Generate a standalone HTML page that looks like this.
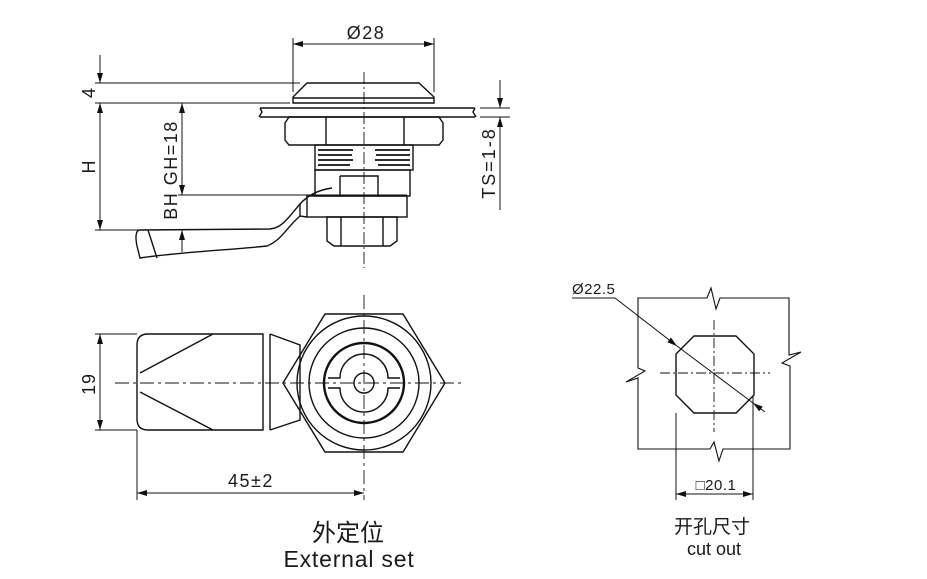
<!DOCTYPE html>
<html><head><meta charset="utf-8"><style>
html,body{margin:0;padding:0;background:#fff;}
svg{display:block;}
text{font-family:"Liberation Sans","Noto Sans CJK SC",sans-serif;fill:#1a1a1a;}
</style></head><body>
<svg width="927" height="579" viewBox="0 0 927 579" xmlns="http://www.w3.org/2000/svg">
<defs>
<marker id="a" viewBox="0 0 10 10" refX="10" refY="5" markerWidth="10" markerHeight="10" markerUnits="userSpaceOnUse" orient="auto-start-reverse"><path d="M0,2 L10,5 L0,8 z" fill="#111"/></marker>
</defs>
<g stroke="#111" stroke-width="1.4" fill="none">
<!-- TOP VIEW -->
<line x1="364" y1="72" x2="364" y2="268" stroke-dasharray="12,3,2,3" stroke-width="0.9"/>
<line x1="293" y1="38" x2="293" y2="92" stroke-width="1"/>
<line x1="434" y1="38" x2="434" y2="92" stroke-width="1"/>
<line x1="293" y1="44" x2="434" y2="44" marker-start="url(#a)" marker-end="url(#a)" stroke-width="1"/>
<path d="M307,83 L419,83 L434,97 L434,103 L293,103 L293,97 Z"/>
<line x1="293" y1="98" x2="434" y2="98"/>
<line x1="95" y1="83" x2="300" y2="83" stroke-width="1"/>
<line x1="95" y1="103" x2="290" y2="103" stroke-width="1"/>
<path d="M260,108 L475,108 M260,117 L475,117 M260,108 L262,112 L259,117 M475,108 L473,112 L476,117"/>
<path d="M480,108 L510,108 M480,117 L510,117" stroke-width="1"/>
<path d="M289,117 L439,117 L443,123 L443,140 L439,145 L289,145 L285,140 L285,123 Z"/>
<line x1="326" y1="117" x2="326" y2="145"/><line x1="404" y1="117" x2="404" y2="145"/>
<rect x="315" y="145" width="98" height="25"/>
<g stroke-width="1.8"><path d="M318,150 H353 M318,155 H352 M318,160 H353 M318,165 H350 M375,150 H410 M376,155 H410 M375,160 H410 M378,165 H410"/></g>
<rect x="315" y="170" width="95" height="26"/>
<path d="M340,176 H378 V196 M340,176 V196"/>
<line x1="178" y1="195" x2="407" y2="195" stroke-width="1"/>
<rect x="307" y="196" width="100" height="21"/>
<path d="M327,217 H397 V241 L390,246 H334 L327,241 Z"/>
<line x1="341" y1="217" x2="341" y2="246"/><line x1="383" y1="217" x2="383" y2="246"/>
<path d="M332,188 C318,190 308,195 300,204 C288,218 282,228 270,229 L140,230 C136,230 135,236 137,246 L140,258 C180,252 230,250 267,246 C282,240 286,228 300,216 L307,217"/>
<line x1="300" y1="204" x2="300" y2="216"/>
<line x1="148" y1="230" x2="157" y2="258"/>
<line x1="95" y1="230" x2="140" y2="230" stroke-width="1"/>
<!-- dims -->
<line x1="100" y1="55" x2="100" y2="83" marker-end="url(#a)" stroke-width="1"/>
<line x1="100" y1="103" x2="100" y2="230" marker-start="url(#a)" marker-end="url(#a)" stroke-width="1"/>
<line x1="182" y1="103" x2="182" y2="195" marker-start="url(#a)" marker-end="url(#a)" stroke-width="1"/>
<line x1="182" y1="252" x2="182" y2="230" marker-end="url(#a)" stroke-width="1"/>
<line x1="500" y1="80" x2="500" y2="108" marker-end="url(#a)" stroke-width="1"/>
<line x1="500" y1="210" x2="500" y2="117" marker-end="url(#a)" stroke-width="1"/>

<!-- BOTTOM VIEW -->
<line x1="115" y1="383" x2="462" y2="383" stroke-dasharray="14,4,3,4" stroke-width="0.9"/>
<line x1="364" y1="295" x2="364" y2="500" stroke-dasharray="14,4,3,4" stroke-width="0.9"/>
<path d="M148,334 L263,334 L263,430 L148,430 Q137,430 137,419 L137,345 Q137,334 148,334 Z"/>
<line x1="140" y1="373" x2="213" y2="334"/><line x1="140" y1="392" x2="213" y2="430"/>
<line x1="270" y1="334" x2="270" y2="430"/>
<path d="M270,334 L300,345 L300,420 L270,430"/>
<path d="M283,383 L325,314 L403,314 L445,383 L403,452 L325,452 Z"/>
<circle cx="364" cy="383" r="67"/>
<circle cx="364" cy="383" r="55"/>
<circle cx="364" cy="383" r="40" stroke-width="2.4"/>
<path d="M328,378 H340 A24,24 0 0 1 388,378 H400 M328,388 H340 A24,24 0 0 0 388,388 H400"/>
<circle cx="364" cy="383" r="10"/>
<line x1="95" y1="334" x2="137" y2="334" stroke-width="1"/>
<line x1="95" y1="430" x2="137" y2="430" stroke-width="1"/>
<line x1="100" y1="334" x2="100" y2="430" marker-start="url(#a)" marker-end="url(#a)" stroke-width="1"/>
<line x1="137" y1="430" x2="137" y2="500" stroke-width="1"/>
<line x1="137" y1="493" x2="364" y2="493" marker-start="url(#a)" marker-end="url(#a)" stroke-width="1"/>

<!-- CUTOUT -->
<path d="M638,298 H707 L711,288 L716,309 L720,298 H789 V355 L801,352 L782,363 L790,366 V449 H723 L719,461 L714,442 L710,449 H638 V378 L626,382 L645,371 L638,368 Z" stroke-width="1.1"/>
<path d="M694,336 H736 L754,354 V395 L736,413 H694 L676,395 V354 Z"/>
<line x1="714" y1="320" x2="714" y2="432" stroke-dasharray="10,3,2,3" stroke-width="0.9"/>
<line x1="660" y1="373" x2="770" y2="373" stroke-dasharray="10,3,2,3" stroke-width="0.9"/>
<line x1="572" y1="298" x2="615" y2="298" stroke-width="1"/>
<line x1="615" y1="298" x2="677" y2="346" marker-end="url(#a)" stroke-width="1"/>
<line x1="765" y1="412" x2="753" y2="403" marker-end="url(#a)" stroke-width="1"/>
<line x1="677" y1="346" x2="753" y2="403" stroke-width="1"/>
<line x1="676" y1="413" x2="676" y2="500" stroke-width="1"/>
<line x1="753" y1="395" x2="753" y2="500" stroke-width="1"/>
<line x1="676" y1="494" x2="753" y2="494" marker-start="url(#a)" marker-end="url(#a)" stroke-width="1"/>
</g>
<!-- labels -->
<text x="366" y="39" font-size="18" letter-spacing="1.5" text-anchor="middle">Ø28</text>
<text transform="translate(95,93) rotate(-90)" font-size="18" text-anchor="middle">4</text>
<text transform="translate(95,167) rotate(-90)" font-size="18" text-anchor="middle">H</text>
<text transform="translate(177,170) rotate(-90)" font-size="18" letter-spacing="1.5" text-anchor="middle">BH  GH=18</text>
<text transform="translate(495,163) rotate(-90)" font-size="18" letter-spacing="2" text-anchor="middle">TS=1-8</text>
<text transform="translate(95,384) rotate(-90)" font-size="18" letter-spacing="1" text-anchor="middle">19</text>
<text x="251" y="487" font-size="18" letter-spacing="1.5" text-anchor="middle">45±2</text>
<text x="348" y="541" font-size="24" text-anchor="middle">外定位</text>
<text x="349" y="567" font-size="23" letter-spacing="0.8" fill="#333" text-anchor="middle">External set</text>
<text x="572" y="294" font-size="15" letter-spacing="0.5">Ø22.5</text>
<text x="716" y="490" font-size="15" letter-spacing="0.5" text-anchor="middle">□20.1</text>
<text x="712" y="533" font-size="19" text-anchor="middle">开孔尺寸</text>
<text x="714" y="555" font-size="18" fill="#333" text-anchor="middle">cut out</text>
</svg>
</body></html>
